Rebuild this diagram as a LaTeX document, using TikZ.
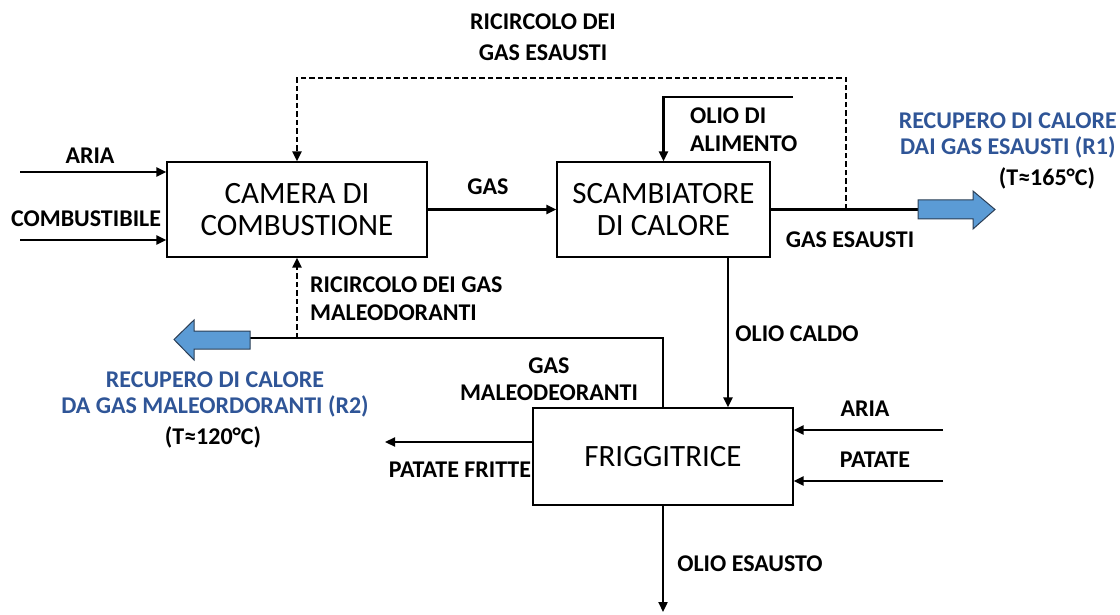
\documentclass[tikz,border=0pt]{standalone}
\usepackage{fontspec}
\setmainfont{Carlito}
\usetikzlibrary{arrows.meta}
\definecolor{bluetxt}{HTML}{2F5597}
\definecolor{bluefill}{HTML}{5B9BD5}
\definecolor{blueline}{HTML}{2B3E55}
\begin{document}
\begin{tikzpicture}[x=1pt,y=-1pt,
  box/.style={draw, line width=1.1pt, minimum height=95pt, font=\fontsize{31}{32}\selectfont, align=center, inner sep=0pt},
  lbl/.style={font=\bfseries\fontsize{24}{28}\selectfont, align=center, inner sep=0pt},
  bluelbl/.style={lbl, text=bluetxt, font=\bfseries\fontsize{24}{26}\selectfont},
  flow/.style={line width=2.3pt, -{Triangle[length=10pt,width=9pt]}},
  plain/.style={line width=2.3pt},
  dflow/.style={line width=2.4pt, dash pattern=on 5.5pt off 3pt, -{Triangle[length=10pt,width=9pt]}},
  blockarrow/.style={fill=bluefill, draw=blueline, line width=1pt, line join=miter}
]
\useasboundingbox (0,0) rectangle (1120,615);

% boxes
\node[box, minimum width=260pt] (camera) at (297,209.5) {CAMERA DI\\COMBUSTIONE};
\node[box, minimum width=213pt] (scamb) at (663.5,209.5) {SCAMBIATORE\\DI CALORE};
\node[box, minimum width=260pt, minimum height=97pt] (frigg) at (663,456.5) {FRIGGITRICE};

% coordinates
\coordinate (ariaS) at (20,172);
\coordinate (combS) at (20,240);
\coordinate (dj) at (846,209.5);
\coordinate (rtop) at (846,78);
\coordinate (oaS) at (793,97);
\coordinate (r1tail) at (918,209.5);
\coordinate (oc) at (728,0);
\coordinate (mj) at (297,338);
\coordinate (gm) at (663,338);
\coordinate (r2tail) at (250,338);
\coordinate (pfE) at (385,442);
\coordinate (ar2) at (943,430);
\coordinate (pat) at (943,481);
\coordinate (oe) at (663,612);

% connectors
\draw[flow] (ariaS) -- (ariaS -| camera.west);
\draw[flow] (combS) -- (combS -| camera.west);
\draw[flow] (camera.east) -- (scamb.west);
\draw[plain] (scamb.east) -- (r1tail);
\draw[dflow] (dj) -- (rtop) -| (camera.north);
\draw[flow] (oaS) -| (scamb.north);
\draw[flow] (oc |- scamb.south) -- (oc |- frigg.north);
\draw[dflow] (mj) -- (camera.south);
\draw[plain] (frigg.north) -- (gm) -- (r2tail);
\draw[flow] (frigg.west |- pfE) -- (pfE);
\draw[flow] (ar2) -- (ar2 -| frigg.east);
\draw[flow] (pat) -- (pat -| frigg.east);
\draw[flow] (frigg.south) -- (oe);

% block arrows
\draw[blockarrow] (r1tail) ++(0,-9.5) -- ++(55,0) -- ++(0,-9) -- (995,209.5) -- (973,229) -- (973,219) -- (918,219) -- cycle;
\draw[blockarrow] (r2tail) ++(0,-7) -- ++(-56,0) -- ++(0,-11) -- (174,339.5) -- (194,360) -- (194,349) -- (250,349) -- cycle;

% labels
\node[lbl] (tAria) at (90,156) {ARIA};
\node[lbl] (tComb) at (86,219) {COMBUSTIBILE};
\node[lbl] (tGas) at (488,187) {GAS};
\node[lbl, font=\bfseries\fontsize{24}{31}\selectfont] (tRic) at (543,37.5) {RICIRCOLO DEI\\GAS ESAUSTI};
\node[lbl, align=left, anchor=west] (tOA) at (690,130) {OLIO DI\\ALIMENTO};
\node[lbl] (tGE) at (850,240) {GAS ESAUSTI};
\node[bluelbl, anchor=east] (tR1) at (1117,135) {RECUPERO DI CALORE\\DAI GAS ESAUSTI (R1)};
\node[lbl] (tT1) at (1047,178) {(T≈165°C)};
\node[lbl] (tOC) at (797,334) {OLIO CALDO};
\node[lbl, align=left, anchor=west] (tRM) at (310,299) {RICIRCOLO DEI GAS\\MALEODORANTI};
\node[lbl, font=\bfseries\fontsize{24}{27}\selectfont] (tGM) at (549,379.5) {GAS\\MALEODEORANTI};
\node[bluelbl] (tR2) at (215,394.5) {RECUPERO DI CALORE\\DA GAS MALEORDORANTI (R2)};
\node[lbl] (tT2) at (213,437) {(T≈120°C)};
\node[lbl] (tPF) at (460,470) {PATATE FRITTE};
\node[lbl] (tA2) at (865,409) {ARIA};
\node[lbl] (tPat) at (875,460) {PATATE};
\node[lbl] (tOE) at (750,564) {OLIO ESAUSTO};
\end{tikzpicture}
\end{document}
